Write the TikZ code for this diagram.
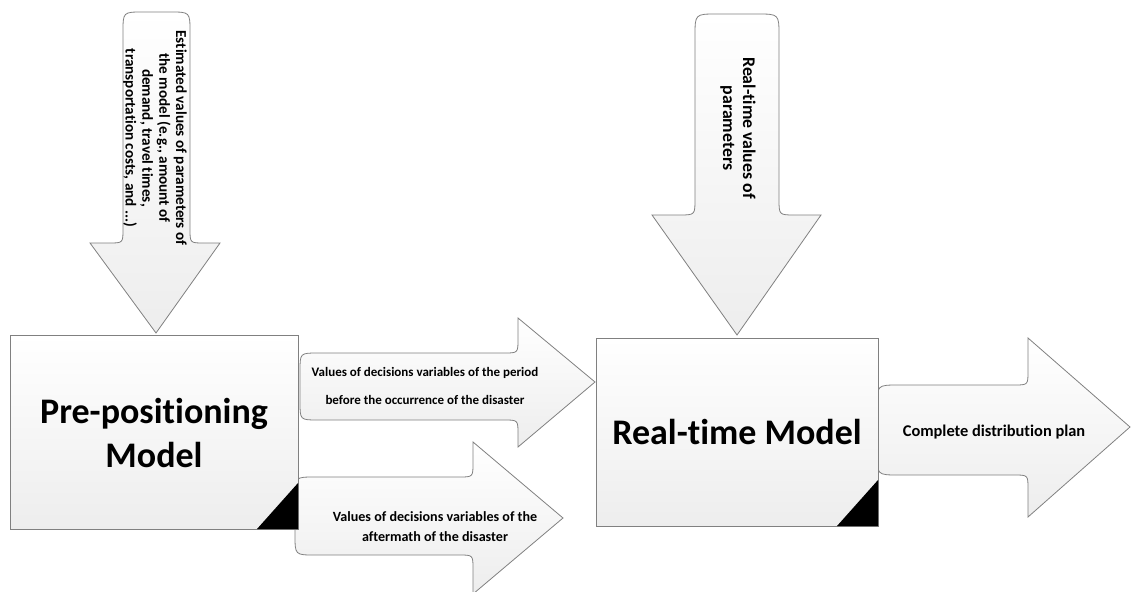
\documentclass[tikz,border=0pt]{standalone}
\usepackage{fontspec}
\setmainfont{Carlito}[RawFeature={-liga;-clig}]
\begin{document}
\begin{tikzpicture}[x=1pt,y=-1pt,
  blk/.style={draw=black!50, line width=0.8pt, top color=white, bottom color=black!7},
  modelbox/.style={draw=black!50, line width=0.9pt, top color=white, bottom color=black!7},
  corner/.style={fill=black},
  lbl/.style={font=\bfseries, align=center, inner sep=0pt}
]
\useasboundingbox (0,0) rectangle (1131,591);
% down arrow 1
\draw[blk] (123,32) .. controls (123,12) .. (143,12) -- (170,12) .. controls (190,12) .. (190,32)
  -- (190,229) .. controls (190,243) .. (204,243) -- (220,243) -- (156,333) -- (90,243)
  -- (109,243) .. controls (123,243) .. (123,229) -- cycle;
% down arrow 2
\draw[blk] (695,36) .. controls (695,14) .. (717,14) -- (757,14) .. controls (779,14) .. (779,36)
  -- (779,199) .. controls (779,215) .. (795,215) -- (821,215) -- (737,335) -- (652,215)
  -- (679,215) .. controls (695,215) .. (695,199) -- cycle;
% right arrow A
\draw[blk] (300,371) .. controls (300,353) .. (318,353) -- (504,353) .. controls (518,353) .. (518,339)
  -- (518,318) -- (595,382) -- (518,447) -- (518,434) .. controls (518,420) .. (504,420)
  -- (318,420) .. controls (300,420) .. (300,402) -- cycle;
% right arrow B
\draw[blk] (295,497) .. controls (295,477) .. (315,477) -- (459,477) .. controls (473,477) .. (473,463)
  -- (473,442) -- (563,518) -- (473,594) -- (473,569) .. controls (473,555) .. (459,555)
  -- (315,555) .. controls (295,555) .. (295,535) -- cycle;
% right arrow C
\draw[blk] (877,407) .. controls (877,385) .. (899,385) -- (1014,385) .. controls (1028,385) .. (1028,371)
  -- (1028,338) -- (1130,427) -- (1028,517) -- (1028,489) .. controls (1028,475) .. (1014,475)
  -- (899,475) .. controls (877,475) .. (877,453) -- cycle;
% boxes
\draw[modelbox] (10,335) rectangle (298,529);
\fill[corner] (257,529) -- (298,529) -- (298,483) -- cycle;
\draw[modelbox] (596,338) rectangle (878,526);
\fill[corner] (837,526) -- (878,526) -- (878,480) -- cycle;
% labels
\node[lbl, font=\bfseries\fontsize{36}{44}\selectfont] (pre) at (154,433) {Pre-positioning\\Model};
\node[lbl, font=\bfseries\fontsize{36}{44}\selectfont] (rt) at (737,432) {Real-time Model};
\node[lbl, rotate=-90, font=\bfseries\fontsize{15.2}{16.8}\selectfont] (est) at (155,138)
  {Estimated values of parameters of\\the model (e.g., amount of\\demand, travel times,\\transportation costs, and ...)};
\node[lbl, rotate=-90, font=\bfseries\fontsize{17.8}{20}\selectfont] (rtv) at (738,128)
  {Real-time values of\\parameters};
\node[lbl, font=\bfseries\fontsize{13}{28}\selectfont] (before) at (425,386)
  {Values of decisions variables of the period\\before the occurrence of the disaster};
\node[lbl, font=\bfseries\fontsize{14.1}{20}\selectfont] (after) at (435,527)
  {Values of decisions variables of the\\aftermath of the disaster};
\node[lbl, font=\bfseries\fontsize{16.4}{18}\selectfont] (plan) at (994,432)
  {Complete distribution plan};
\end{tikzpicture}
\end{document}
